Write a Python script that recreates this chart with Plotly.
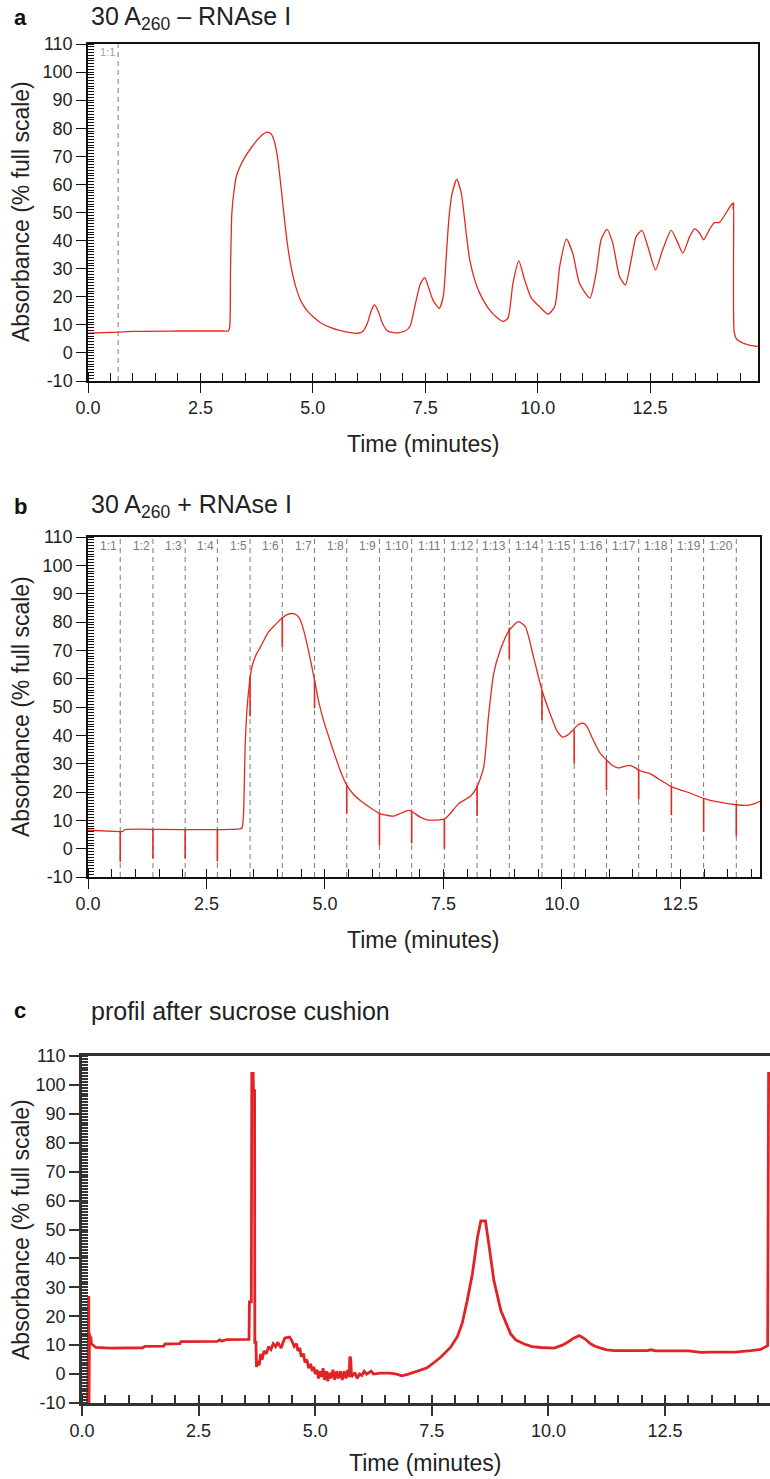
import plotly.graph_objects as go

W, H = 770, 1479
FONT = "Liberation Sans, Arial, Helvetica, sans-serif"
RED = "#e32a1f"
RED_C = "#e02325"
GRAY = "#7a7a7a"

# ---------------- data: panel a (30 A260 - RNAse I) ----------------
a_time = [0.0, 0.5, 1.0, 2.0, 3.0, 3.12, 3.15, 3.17, 3.2, 3.25, 3.3, 3.4, 3.5, 3.65, 3.8, 3.92,
          4.0, 4.08, 4.15, 4.22, 4.3, 4.38, 4.45, 4.55, 4.65, 4.75, 4.9, 5.0, 5.2, 5.4, 5.6,
          5.8, 6.0, 6.1, 6.2, 6.3, 6.37, 6.45, 6.55, 6.65, 6.8, 6.93, 7.05, 7.16, 7.3, 7.4,
          7.49, 7.58, 7.67, 7.81, 7.9, 7.97, 8.03, 8.1, 8.2, 8.3, 8.41, 8.49, 8.6, 8.71, 8.93,
          9.1, 9.23, 9.34, 9.45, 9.58, 9.71, 9.86, 10.04, 10.23, 10.38, 10.49, 10.64, 10.78,
          10.93, 11.16, 11.3, 11.41, 11.54, 11.67, 11.82, 11.95, 12.08, 12.19, 12.32, 12.45,
          12.62, 12.78, 12.97, 13.12, 13.23, 13.38, 13.49, 13.6, 13.69, 13.82, 13.93, 14.04,
          14.16, 14.27, 14.34, 14.35, 14.36, 14.37, 14.42, 14.49, 14.7, 14.9]
a_abs = [7.0, 7.3, 7.7, 7.8, 7.8, 7.8, 9.0, 30.0, 50.0, 58.0, 63.0, 67.0, 70.0, 73.5, 76.5, 78.2,
         78.6, 77.8, 75.0, 69.0, 58.0, 46.0, 37.0, 28.0, 22.0, 18.0, 14.5, 13.0, 10.5, 9.0, 8.0,
         7.3, 7.0, 7.5, 10.0, 15.0, 17.2, 15.0, 10.5, 8.0, 7.2, 7.2, 7.8, 9.4, 18.9, 25.0,
         26.8, 23.0, 18.9, 15.9, 20.0, 35.0, 48.6, 57.0, 61.8, 57.0, 42.7, 33.1, 26.0, 21.3, 15.3,
         12.5, 11.2, 12.4, 24.8, 32.8, 26.0, 19.5, 16.5, 13.8, 16.5, 30.8, 40.5, 35.5,
         24.8, 19.5, 28.4, 40.3, 44.0, 39.1, 27.2, 24.2, 33.1, 41.4, 43.6, 37.9,
         29.6, 36.7, 43.6, 39.1, 35.5, 41.4, 44.2, 42.7, 40.3, 43.9, 46.4, 46.4,
         49.1, 51.9, 53.3, 51.0, 53.5, 7.5, 5.0, 4.1, 2.8, 2.3]
a_fraction_times = [0.67]
a_fraction_labels = ["1:1"]

# ---------------- data: panel b (30 A260 + RNAse I) ----------------
b_time = [0.0, 0.68, 0.72, 0.78, 1.5, 2.5, 3.0, 3.2, 3.25, 3.28, 3.32, 3.37, 3.46, 3.55, 3.64,
          3.81, 3.95, 4.09, 4.2, 4.3, 4.4, 4.48, 4.56, 4.65, 4.78, 4.88, 4.97, 5.07, 5.15, 5.32,
          5.46, 5.6, 5.74, 5.95, 6.15, 6.3, 6.45, 6.6, 6.76, 6.83, 7.0, 7.15, 7.35, 7.52, 7.65,
          7.82, 8.07, 8.21, 8.35, 8.45, 8.56, 8.7, 8.89, 9.08, 9.23, 9.4, 9.58, 9.75, 9.9,
          10.02, 10.15, 10.25, 10.35, 10.46, 10.55, 10.63, 10.81, 10.95, 11.05, 11.19, 11.3,
          11.44, 11.55, 11.62, 11.75, 11.86, 12.05, 12.32, 12.64, 13.0, 13.3, 13.68, 13.9,
          14.05, 14.18]
b_abs = [6.5, 6.0, 6.0, 6.7, 6.8, 6.7, 6.8, 7.0, 7.3, 11.6, 38.0, 52.4, 64.2, 68.5, 71.2,
         76.5, 79.0, 81.3, 82.6, 83.0, 82.5, 80.7, 76.5, 70.1, 59.5, 51.0, 45.3, 40.0, 35.9, 27.7,
         22.4, 19.2, 17.1, 14.5, 12.4, 11.8, 11.5, 12.5, 13.5, 13.2, 11.2, 10.2, 10.1, 10.4, 12.5,
         15.9, 18.5, 21.8, 28.8, 46.5, 61.8, 70.1, 77.1, 80.1, 78.3, 67.7, 55.9, 47.7, 41.5,
         39.4, 40.5, 42.2, 43.8, 44.2, 42.5, 39.4, 33.6, 31.2, 29.5, 28.5, 29.0,
         29.4, 28.5, 27.7, 27.0, 26.5, 24.5, 21.8, 20.0, 17.7, 16.5, 15.5, 15.3,
         15.8, 16.7]
b_fraction_times = [0.68, 1.37, 2.05, 2.73, 3.42, 4.10, 4.78, 5.46, 6.15, 6.83,
                    7.52, 8.21, 8.89, 9.58, 10.26, 10.94, 11.62, 12.31, 12.99, 13.68]
b_fraction_labels = ["1:%d" % k for k in range(1, 21)]
b_mark_top = [6.0, 6.7, 6.7, 6.6, 60.6, 81.8, 59.5, 22.4, 12.4, 13.3,
              10.5, 22.0, 78.0, 55.9, 41.8, 31.2, 28.0, 22.0, 17.7, 15.5]
b_mark_bottom = [-4.7, -3.5, -3.5, -4.5, 46.7, 71.2, 49.5, 12.4, 1.2, 1.8,
                 0.0, 11.5, 67.0, 45.3, 30.0, 20.6, 17.3, 11.8, 6.0, 4.5]

# ---------------- data: panel c (profil after sucrose cushion) ----------------
c_time = [0.12, 0.13, 0.145, 0.15, 0.16, 0.18, 0.19, 0.2, 0.25, 0.3, 0.6, 1.0, 1.3, 1.35, 1.75,
          1.78, 2.1, 2.12, 2.9, 2.95, 3.0, 3.1, 3.58, 3.59, 3.63, 3.64, 3.67, 3.675, 3.7, 3.705,
          3.73, 3.74, 3.78, 3.8, 3.83, 3.86, 3.9, 3.95, 4.0, 4.05, 4.1, 4.15, 4.2, 4.23, 4.27,
          4.3, 4.35, 4.45, 4.5, 4.55, 4.6, 4.63, 4.67, 4.7, 4.75, 4.78, 4.82, 4.86, 4.9, 4.94,
          4.97, 5.0, 5.04, 5.07, 5.1, 5.13, 5.17, 5.2, 5.24, 5.27, 5.3, 5.34, 5.38, 5.42, 5.46,
          5.5, 5.54, 5.58, 5.62, 5.66, 5.7, 5.73, 5.74, 5.76, 5.78, 5.85, 5.9, 5.95, 6.0, 6.05,
          6.1, 6.2, 6.25, 6.4, 6.6, 6.75, 6.85, 7.0, 7.2, 7.4, 7.55, 7.7, 7.9, 8.05, 8.15, 8.26,
          8.37, 8.48, 8.55, 8.65, 8.73, 8.83, 8.98, 9.1, 9.19, 9.3, 9.48, 9.65, 9.83, 10.12,
          10.3, 10.41, 10.55, 10.66, 10.78, 10.91, 11.0, 11.12, 11.25, 11.41, 12.12, 12.2, 12.3,
          13.0, 13.27, 13.5, 13.8, 14.0, 14.34, 14.55, 14.7, 14.72, 14.75]
c_abs = [-10, 27, 27, -10, 14, 12, 13, 10.5, 10, 9.2, 9.0, 9.0, 9.1, 9.6, 9.7,
         10.4, 10.5, 11.2, 11.3, 11.8, 11.4, 11.9, 12, 25, 25, 104, 104, 98, 98, 11,
         11, 2.5, 4.5, 3, 7, 5, 8, 7, 9.5, 8.5, 10.5, 9.5, 11, 10, 9,
         10.5, 12.5, 12.8, 11.5, 9.5, 10.5, 8, 9, 6, 7, 4, 5, 2, 3.5, 1,
         2.5, 0, 1.5, -1.5, 1, -1, 2, -2, 1, -2.5, 0.5, -1.5, 1.5, -2, 1,
         -1.5, 1, -2, 1, -1.5, 1.5, -1, 6, 5.5, -1, 0.5, -1.5, 0, -0.5, 1,
         0, 1, 0, 0.3, 0.3, 0, -0.6, 0, 1.0, 2.2, 4, 6, 9.2, 13, 17.5, 25.5,
         34.7, 47.4, 53, 53, 44, 32.4, 22, 17, 13.9, 11.8, 10.4, 9.5, 9.2, 9.0,
         10, 11, 12.5, 13.3, 12.2, 10.4, 9.6, 9.0, 8.4, 8.1, 8.1, 8.4, 8.0,
         8.0, 7.5, 7.6, 7.5, 7.6, 8.1, 8.5, 9.8, 104, 104]

x_tick_vals = [0.0, 2.5, 5.0, 7.5, 10.0, 12.5]
y_tick_vals = [-10, 0, 10, 20, 30, 40, 50, 60, 70, 80, 90, 100, 110]
y_tick_text = ["%d" % v for v in y_tick_vals]


def xp(px):
    return px / W


def yp(py):
    return 1 - py / H


fig = go.Figure()

# panel a
fig.add_trace(go.Scatter(x=a_time, y=a_abs, mode="lines", xaxis="x", yaxis="y",
                         line=dict(color=RED, width=1.3, shape="spline", smoothing=0.6),
                         showlegend=False, hoverinfo="skip"))
vx, vy = [], []
for t in a_fraction_times:
    vx += [t, t, None]
    vy += [-10, 110, None]
fig.add_trace(go.Scatter(x=vx, y=vy, mode="lines", xaxis="x", yaxis="y",
                         line=dict(color=GRAY, width=1, dash="5px,4px"), showlegend=False,
                         hoverinfo="skip"))

# panel b
vx, vy = [], []
for t in b_fraction_times:
    vx += [t, t, None]
    vy += [-10, 110, None]
fig.add_trace(go.Scatter(x=vx, y=vy, mode="lines", xaxis="x2", yaxis="y2",
                         line=dict(color=GRAY, width=1, dash="5px,4px"), showlegend=False,
                         hoverinfo="skip"))
fig.add_trace(go.Scatter(x=b_time, y=b_abs, mode="lines", xaxis="x2", yaxis="y2",
                         line=dict(color=RED, width=1.3, shape="spline", smoothing=0.6),
                         showlegend=False, hoverinfo="skip"))
mx, my = [], []
for t, top, bot in zip(b_fraction_times, b_mark_top, b_mark_bottom):
    mx += [t, t, None]
    my += [top, bot, None]
fig.add_trace(go.Scatter(x=mx, y=my, mode="lines", xaxis="x2", yaxis="y2",
                         line=dict(color=RED, width=1.6), showlegend=False, hoverinfo="skip"))

# panel c
fig.add_trace(go.Scatter(x=c_time, y=c_abs, mode="lines", xaxis="x3", yaxis="y3",
                         line=dict(color=RED_C, width=2.8), showlegend=False,
                         hoverinfo="skip"))

# dummy traces for overlay tick axes
for xa, ya in [("x4", "y"), ("x", "y4"), ("x5", "y2"), ("x2", "y5"), ("x6", "y3"), ("x3", "y6")]:
    fig.add_trace(go.Scatter(x=[None], y=[None], xaxis=xa, yaxis=ya, showlegend=False,
                             hoverinfo="skip"))

panels = {
    # name: (x domain px, y domain px (top,bottom), xmax, line width, line color, mirror y)
    "a": ((88, 758), (44, 381), 14.9, 1.5, "#111", True),
    "b": ((88, 760), (537, 877), 14.18, 1.5, "#111", True),
    "c": ((82, 770), (1056, 1403), 14.75, 2.6, "#333", False),
}

layout = dict(width=W, height=H,
              margin=dict(l=0, r=0, t=0, b=0, pad=0, autoexpand=False),
              paper_bgcolor="white", plot_bgcolor="white",
              font=dict(family=FONT, size=18, color="#222"), showlegend=False)

names = [("a", "", "", "4"), ("b", "2", "2", "5"), ("c", "3", "3", "6")]
for key, xs, ys, os in names:
    (x0, x1), (ytop, ybot), xmax, lw, lc, mirror_y = panels[key]
    tw = 2 if key == "c" else 1.2
    xdom = [xp(x0), xp(x1)]
    ydom = [yp(ybot), yp(ytop)]
    layout["xaxis" + xs] = dict(
        domain=xdom, range=[0, xmax], anchor="y" + ys, showgrid=False, zeroline=False,
        showline=True, linecolor=lc, linewidth=lw, mirror=True, automargin=False,
        tickmode="array", tickvals=x_tick_vals, ticktext=["%.1f" % v for v in x_tick_vals],
        ticks="outside", ticklen=10, tickwidth=tw, tickcolor=lc,
        minor=dict(dtick=0.5, tick0=0, ticks="inside", ticklen=8, tickwidth=tw, tickcolor=lc),
        tickfont=dict(size=18, family=FONT, color="#222"),
    )
    layout["yaxis" + ys] = dict(
        domain=ydom, range=[-10, 110], anchor="x" + xs, showgrid=False, zeroline=False,
        showline=True, linecolor=lc, linewidth=lw, mirror=mirror_y, automargin=False,
        tickmode="array", tickvals=y_tick_vals, ticktext=y_tick_text,
        ticks="outside", ticklen=10, tickwidth=tw, tickcolor=lc,
        minor=dict(dtick=1, tick0=0, ticks="inside", ticklen=6,
                   tickwidth=1.2 if key != "c" else 1.8, tickcolor=lc),
        tickfont=dict(size=18, family=FONT, color="#222"),
    )
    layout["xaxis" + os] = dict(
        overlaying="x" + xs, anchor="y" + ys, side="bottom", range=[0, xmax],
        showgrid=False, zeroline=False, showline=False, showticklabels=False, automargin=False,
        tickmode="array", tickvals=x_tick_vals, ticks="inside", ticklen=8, tickwidth=tw,
        tickcolor=lc,
    )
    layout["yaxis" + os] = dict(
        overlaying="y" + ys, anchor="x" + xs, side="left", range=[-10, 110],
        showgrid=False, zeroline=False, showline=False, showticklabels=False, automargin=False,
        tickmode="array", tickvals=y_tick_vals, ticks="inside", ticklen=6, tickwidth=tw,
        tickcolor=lc,
    )

fig.update_layout(**layout)

ann = []
# panel letters and titles
for letter, title, py in [("a", "30 A<sub>260</sub> – RNAse I", 18),
                          ("b", "30 A<sub>260</sub> + RNAse I", 506),
                          ("c", "profil after sucrose cushion", 1011)]:
    ann.append(dict(text="<b>%s</b>" % letter, x=xp(12), y=yp(py), xref="paper", yref="paper",
                    xanchor="left", yanchor="middle", showarrow=False,
                    font=dict(size=22, family=FONT, color="#111")))
    ann.append(dict(text=title, x=xp(89), y=yp(py), xref="paper", yref="paper",
                    xanchor="left", yanchor="middle", showarrow=False,
                    font=dict(size=25, family=FONT, color="#222")))

# axis titles
for cy, tx, ty in [(212, 423, 444), (707, 424, 940), (1230, 426, 1463)]:
    ann.append(dict(text="Absorbance (% full scale)", x=xp(21), y=yp(cy), xref="paper",
                    yref="paper", xanchor="center", yanchor="middle", textangle=-90,
                    showarrow=False, font=dict(size=23, family=FONT, color="#222")))
    ann.append(dict(text="Time (minutes)", x=xp(tx), y=yp(ty), xref="paper", yref="paper",
                    xanchor="center", yanchor="middle", showarrow=False,
                    font=dict(size=23, family=FONT, color="#222")))

# fraction labels
for t, lab in zip(a_fraction_times, a_fraction_labels):
    ann.append(dict(text=lab, x=t, y=107, xref="x", yref="y", xanchor="right", yanchor="middle",
                    xshift=-1, showarrow=False, font=dict(size=11, family=FONT, color="#a0a0a0")))
for t, lab in zip(b_fraction_times, b_fraction_labels):
    ann.append(dict(text=lab, x=t, y=106.8, xref="x2", yref="y2", xanchor="right",
                    yanchor="middle", xshift=-1, showarrow=False,
                    font=dict(size=12, family=FONT, color="#7a7a7a")))

fig.update_layout(annotations=ann)
fig.write_html(
    "out.html",
    config={"displayModeBar": False},
    post_script="document.body.style.margin='0';document.body.style.padding='0';"
                "document.documentElement.style.overflow='hidden';",
)
